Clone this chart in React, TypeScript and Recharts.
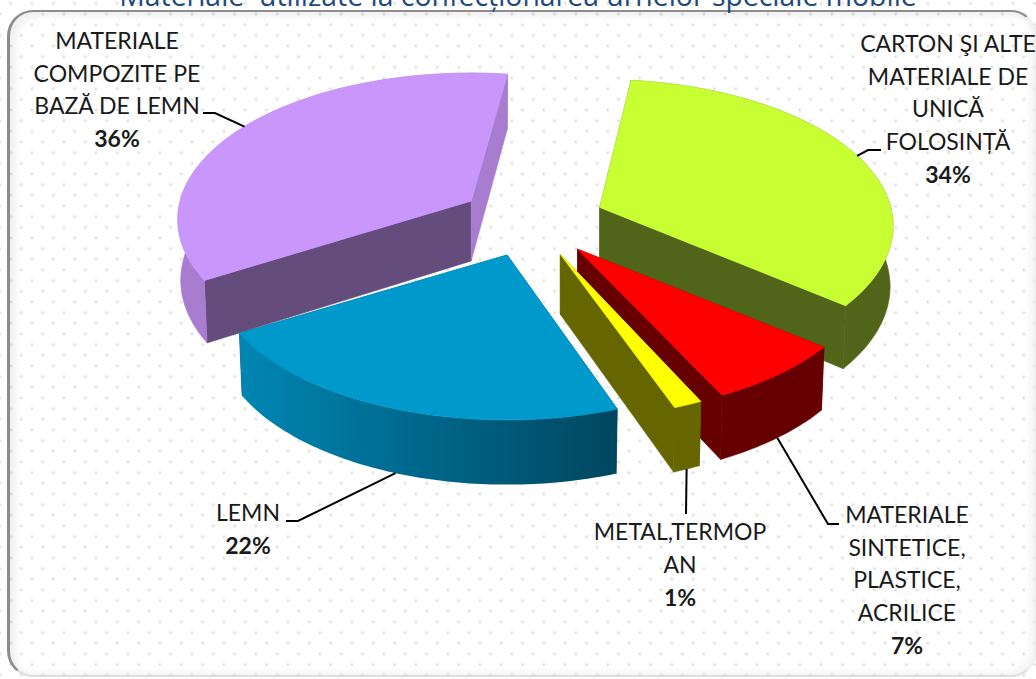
import { PieChart, Pie } from "recharts";

// slices in drawing order (back to front), clockwise from the purple one
const names = [
  "MATERIALE COMPOZITE PE BAZĂ DE LEMN",
  "CARTON ŞI ALTE MATERIALE DE UNICĂ FOLOSINȚĂ",
  "MATERIALE SINTETICE, PLASTICE, ACRILICE",
  "METAL,TERMOPAN",
  "LEMN",
];
const values = [36, 34, 7, 1.4, 22];

const topColors = ["#C996FB", "#C8FF32", "#FF0000", "#FFFF00", "#0099CC"];
const edgeColors = ["#644C7C", "#50651A", "#660000", "#666600", "#00465F"];
const rimColors = ["#A87CCF", "#50651A", "#660000", "#666600", "#0086B3"];

const labelLines = [
  ["MATERIALE", "COMPOZITE PE", "BAZĂ DE LEMN"],
  ["CARTON ŞI ALTE", "MATERIALE DE", "UNICĂ", "FOLOSINȚĂ"],
  ["MATERIALE", "SINTETICE,", "PLASTICE,", "ACRILICE"],
  ["METAL,TERMOP", "AN"],
  ["LEMN"],
];
// label centre x, first baseline y
const labelAt = [
  [117, 49],
  [948, 52],
  [907, 523],
  [680, 540],
  [248, 521],
];
// leader line points after the one on the slice
const leaders = [
  [[215, 113], [203, 113]],
  [[868, 150], [881, 150]],
  [[828, 524], [839, 524]],
  [[686, 514]],
  [[298, 521], [286, 521]],
];

const data = names.map((name, i) => ({ name, value: values[i] }));

const TILT = 0.495; // ellipse height / width
const PERSP = 0.1263;
const EXPLODE = 73;
const DEPTH = 60;
// the original's perspective pulls each slice round a little, degrees clockwise
const TURN = [1.6, 0.5, 0.4, 1.2, 2];

const rad = (a: number) => (a * Math.PI) / 180;

// recharts angle -> slice apex, and a rim point on the top / bottom face
function apex(cx: number, cy: number, mid: number) {
  return {
    x: cx + EXPLODE * Math.cos(rad(mid)),
    y: cy - EXPLODE * TILT * Math.sin(rad(mid)),
  };
}

function rim(a: { x: number; y: number }, r: number, angle: number, bottom = false) {
  const u = Math.cos(rad(angle));
  const v = -Math.sin(rad(angle));
  const w = 1 - PERSP * v;
  const dx = (r * u) / w;
  const dy = (r * TILT * v) / w;
  if (!bottom) return { x: a.x + dx, y: a.y + dy };
  return { x: a.x + 0.99 * dx, y: a.y + dy + DEPTH * (1 + 0.08 * v) };
}

const toPath = (pts: { x: number; y: number }[]) =>
  "M" + pts.map((p) => `${p.x.toFixed(1)},${p.y.toFixed(1)}`).join("L") + "Z";

function Slice3D(props: any) {
  const { cx, cy, outerRadius, startAngle, endAngle, midAngle, index } = props;
  const i = index ?? names.indexOf(props.name);
  const turn = TURN[i];
  const a = apex(cx, cy, midAngle - turn);
  const angles: number[] = [];
  const steps = Math.max(2, Math.ceil(Math.abs(endAngle - startAngle)));
  for (let s = 0; s <= steps; s++) {
    angles.push(startAngle - turn + ((endAngle - startAngle) * s) / steps);
  }
  const top = angles.map((t) => rim(a, outerRadius, t));
  const low = angles.map((t) => rim(a, outerRadius, t, true));
  const aLow = { x: a.x, y: a.y + DEPTH };
  const gradId = `rim-${i}`;
  const isBlue = i === 4;
  const startFace = [a, top[0], low[0], aLow];
  const endFace = [a, top[top.length - 1], low[low.length - 1], aLow];
  const arcFace = [...top, ...[...low].reverse()];
  const endColor = i === 0 ? rimColors[i] : edgeColors[i];

  return (
    <g>
      <defs>
        <linearGradient id={gradId} x1="0" y1="0" x2="1" y2="0">
          <stop offset="0%" stopColor={rimColors[i]} />
          <stop offset="100%" stopColor={edgeColors[i]} />
        </linearGradient>
      </defs>
      <path d={toPath(startFace)} fill={edgeColors[i]} stroke={edgeColors[i]} strokeWidth={0.6} />
      <path d={toPath(endFace)} fill={endColor} stroke={endColor} strokeWidth={0.6} />
      <path
        d={toPath(arcFace)}
        fill={isBlue ? `url(#${gradId})` : rimColors[i]}
        stroke={isBlue ? "none" : rimColors[i]}
        strokeWidth={0.6}
      />
      <path d={toPath([a, ...top])} fill={topColors[i]} stroke={topColors[i]} strokeWidth={0.8} />
    </g>
  );
}

function SliceLabel(props: any) {
  const { cx, cy, midAngle, outerRadius, percent, index } = props;
  const mid = midAngle - TURN[index];
  const a = apex(cx, cy, mid);
  // upper slices start the leader on the top rim, front ones on the bottom rim
  const front = Math.sin(rad(mid)) < 0;
  const start = rim(a, outerRadius, mid, front);
  const pts = [[start.x, start.y], ...leaders[index]];
  const [lx, ly] = labelAt[index];
  const lines = labelLines[index];
  return (
    <g>
      <polyline
        points={pts.map((p) => p.join(",")).join(" ")}
        fill="none"
        stroke="#000"
        strokeWidth={2}
      />
      <text x={lx} y={ly} textAnchor="middle" fontFamily="Lato" fontSize={23} fill="#1a1a1a">
        {lines.map((t, k) => (
          <tspan key={k} x={lx} y={ly + k * 32.6}>
            {t}
          </tspan>
        ))}
        <tspan x={lx} y={ly + lines.length * 32.8} fontWeight={700}>
          {Math.round(percent * 100)}%
        </tspan>
      </text>
    </g>
  );
}

const dot = "radial-gradient(circle at center, #d8d8d8 0, #e2e2e2 1px, rgba(255,255,255,0) 1.9px)";

export default function App() {
  return (
    <div
      style={{
        position: "absolute",
        left: 0,
        top: 0,
        width: 1036,
        height: 679,
        overflow: "hidden",
        backgroundColor: "#fff",
        backgroundImage: `${dot}, ${dot}`,
        backgroundSize: "21.33px 21.33px",
        backgroundPosition: "0px -7.3px, -10.67px 3.4px",
      }}
    >
      <div
        style={{
          position: "absolute",
          left: 7,
          top: 10,
          width: 1030,
          height: 667,
          boxSizing: "border-box",
          borderRadius: 26,
          borderTop: "2px solid #8c8c8c",
          borderLeft: "3px solid #8c8c8c",
          borderRight: "3px solid #efefef",
          borderBottom: "2px solid #dedede",
          boxShadow: "inset 6px 5px 7px rgba(0,0,0,0.06), inset -5px -4px 6px rgba(0,0,0,0.04)",
        }}
      />
      <div
        style={{
          position: "absolute",
          left: 0,
          width: 1036,
          top: -23,
          textAlign: "center",
          fontFamily: "Open Sans",
          fontSize: 28.4,
          lineHeight: "36px",
          color: "#1F497D",
          whiteSpace: "pre",
        }}
      >
        {"Materiale  utilizate la confecționarea urnelor speciale mobile"}
      </div>
      <div style={{ position: "absolute", left: 0, top: 0 }}>
        <PieChart width={1036} height={679} margin={{ top: 0, right: 0, bottom: 0, left: 0 }}>
          <Pie
            data={data}
            dataKey="value"
            nameKey="name"
            cx={532}
            cy={221}
            innerRadius={0}
            outerRadius={291}
            startAngle={-147.4}
            endAngle={-507.4}
            stroke="none"
            shape={Slice3D}
            label={SliceLabel}
            labelLine={false}
            isAnimationActive={false}
            rootTabIndex={-1}
          />
        </PieChart>
      </div>
    </div>
  );
}
